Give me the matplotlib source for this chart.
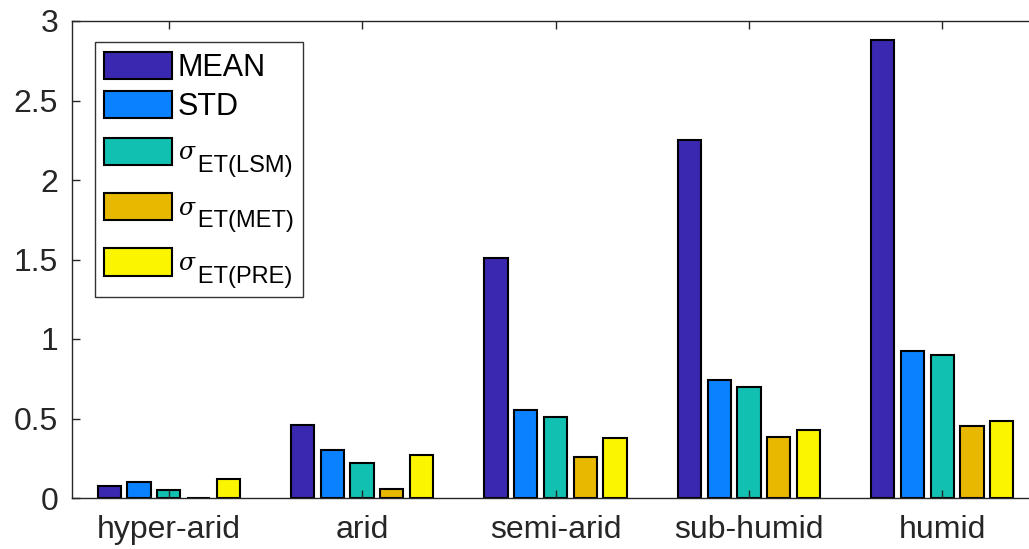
import numpy as np
import matplotlib
matplotlib.use("Agg")
import matplotlib.pyplot as plt

plt.rcParams['font.family'] = ['Liberation Sans', 'DejaVu Sans']
plt.rcParams['mathtext.fontset'] = 'custom'
plt.rcParams['mathtext.it'] = 'DejaVu Serif:italic'

CLIMATES = ["hyper-arid", "arid", "semi-arid", "sub-humid", "humid"]
# sigma sits above, the ET(...) part is dropped like a subscript
SERIES = ["MEAN", "STD", "\n$\\sigma$\n   ET(LSM)", "\n$\\sigma$\n   ET(MET)", "\n$\\sigma$\n   ET(PRE)"]
COLORS = ["#3a29b0", "#0a82ff", "#12c0b2", "#e8b800", "#fcf500"]

MEAN = [0.075, 0.46, 1.51, 2.25, 2.88]
STD = [0.10, 0.30, 0.555, 0.74, 0.925]
ET_LSM = [0.05, 0.22, 0.51, 0.70, 0.90]
ET_MET = [0.0, 0.057, 0.26, 0.385, 0.455]
ET_PRE = [0.12, 0.27, 0.375, 0.43, 0.485]

DARK = "#262626"


def main():
    fig = plt.figure(figsize=(10.29, 5.49), dpi=100)
    ax = fig.add_axes([72 / 1029, 1 - 498 / 549, 967 / 1029, 477 / 549])

    values = [MEAN, STD, ET_LSM, ET_MET, ET_PRE]
    x = np.arange(1, len(CLIMATES) + 1)
    step = 0.154
    for i, (vals, name, col) in enumerate(zip(values, SERIES, COLORS)):
        ax.bar(x + (i - 2) * step, vals, width=0.12, color=col,
               edgecolor="black", linewidth=1.5, label=name)

    ax.set_xlim(0.5, 5.5)
    ax.set_ylim(0, 3)
    ax.set_xticks(x)
    ax.set_xticklabels(CLIMATES)
    ax.set_yticks([0, 0.5, 1, 1.5, 2, 2.5, 3])
    ax.set_yticklabels(["0", "0.5", "1", "1.5", "2", "2.5", "3"])
    ax.tick_params(direction="in", length=6, width=1, colors=DARK,
                   labelsize=23, top=True, right=True, pad=12)
    ax.tick_params(axis="y", pad=10)
    for s in ax.spines.values():
        s.set_color(DARK)
        s.set_linewidth(1)

    leg = ax.legend(loc="upper left", bbox_to_anchor=(0.024, 0.955),
                    fontsize=22, frameon=True, fancybox=False,
                    edgecolor="black", handlelength=2.2, handleheight=1.0,
                    handletextpad=0.2, labelspacing=0.26, borderpad=0.3,
                    borderaxespad=0)
    leg.get_frame().set_linewidth(1)
    for t in leg.get_texts()[2:]:
        t.set_fontsize(17)
        t.set_linespacing(0.45)

    fig.savefig("out.png", dpi=100)


if __name__ == "__main__":
    main()
